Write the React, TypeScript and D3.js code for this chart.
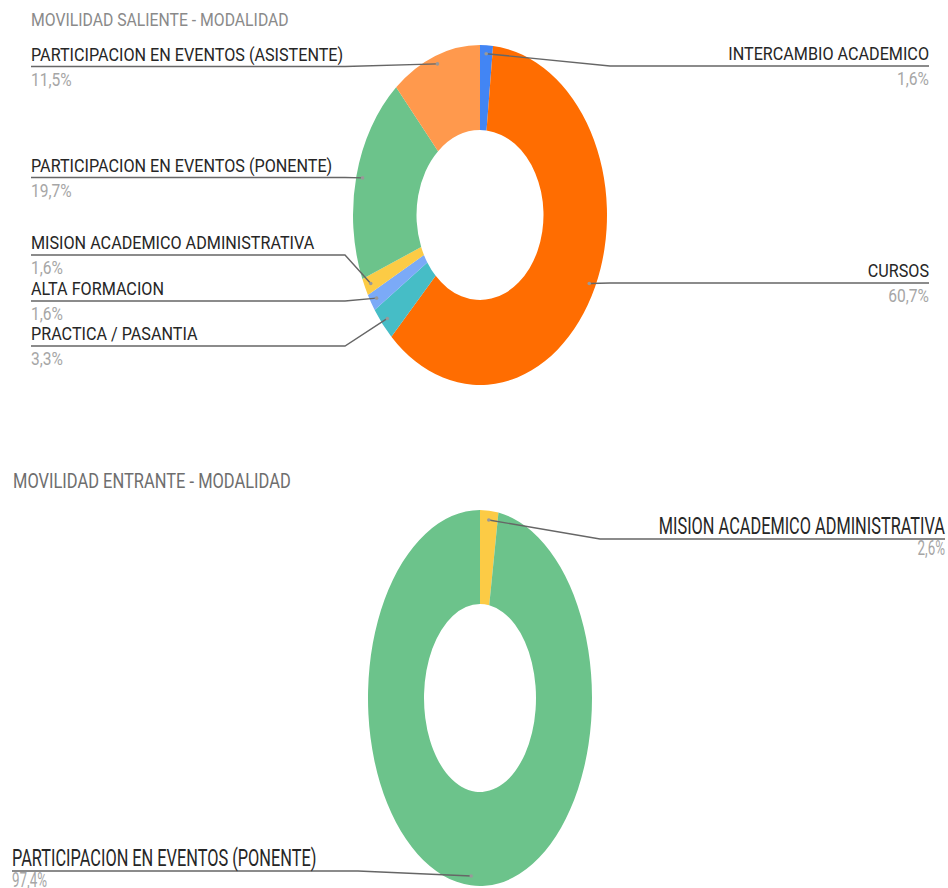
import * as d3 from "d3";

// salida
const salienteLabels = [
  "INTERCAMBIO ACADEMICO",
  "CURSOS",
  "PRACTICA / PASANTIA",
  "ALTA FORMACION",
  "MISION ACADEMICO ADMINISTRATIVA",
  "PARTICIPACION EN EVENTOS (PONENTE)",
  "PARTICIPACION EN EVENTOS (ASISTENTE)",
];
const salienteValues = [1, 37, 2, 1, 1, 12, 7];
const salienteColors = ["#4285f4", "#ff6d01", "#46bdc6", "#7baaf7", "#fccb45", "#6cc38b", "#ff994d"];

// entrada
const entranteLabels = ["MISION ACADEMICO ADMINISTRATIVA", "PARTICIPACION EN EVENTOS (PONENTE)"];
const entranteValues = [1, 37];
const entranteColors = ["#fccb45", "#6cc38b"];

type Layout = {
  title: string;
  titleX: number;
  titleY: number;
  titleSize: number;
  titleSx: number;
  titleColor: string;
  cx: number;
  cy: number;
  rx: number;
  ry: number;
  inner: number;
  fontSize: number;
  sx: number;
  pctSize: number;
  leftX: number;
  rightX: number;
  leftElbow: number;
  rightElbow: number;
  textDy: number;
  pctDy: number;
  rows: number[]; // y de la línea guía por porción
};

const fmtPct = (v: number, total: number) =>
  (Math.round((v / total) * 1000) / 10).toFixed(1).replace(".", ",") + "%";

const Donut = ({
  labels,
  values,
  colors,
  layout,
}: {
  labels: string[];
  values: number[];
  colors: string[];
  layout: Layout;
}) => {
  const R = 100;
  const total = d3.sum(values);
  const pie = d3.pie<number>().sort(null).value((d) => d)(values);
  const arc = d3.arc<d3.PieArcDatum<number>>().innerRadius(R * layout.inner).outerRadius(R);
  const kx = layout.rx / R;
  const ky = layout.ry / R;

  return (
    <g>
      <text
        transform={`translate(${layout.titleX},${layout.titleY}) scale(${layout.titleSx},1)`}
        fontSize={layout.titleSize}
        fill={layout.titleColor}
      >
        {layout.title}
      </text>
      <g transform={`translate(${layout.cx},${layout.cy}) scale(${kx},${ky})`}>
        {pie.map((d, i) => (
          <path key={i} d={arc(d) || ""} fill={colors[i]} />
        ))}
      </g>
      {pie.map((d, i) => {
        const mid = (d.startAngle + d.endAngle) / 2;
        const ax = layout.cx + Math.sin(mid) * 0.95 * layout.rx;
        const ay = layout.cy - Math.cos(mid) * 0.95 * layout.ry;
        const right = mid < Math.PI;
        const ly = layout.rows[i];
        const x0 = right ? layout.rightX : layout.leftX;
        const elbow = right ? layout.rightElbow : layout.leftElbow;
        const anchor = right ? "end" : "start";
        return (
          <g key={"l" + i}>
            <path
              d={`M${x0},${ly}H${elbow}L${ax},${ay}`}
              fill="none"
              stroke="#666"
              strokeWidth={1.4}
            />
            <circle cx={ax} cy={ay} r={1.8} fill="#999" />
            <text
              transform={`translate(${x0},${ly + layout.textDy}) scale(${layout.sx},1)`}
              textAnchor={anchor}
              fontSize={layout.fontSize}
              fill="#262626"
            >
              {labels[i]}
            </text>
            <text
              transform={`translate(${x0},${ly + layout.pctDy}) scale(${layout.sx},1)`}
              textAnchor={anchor}
              fontSize={layout.pctSize}
              fill="#a6a6a6"
            >
              {fmtPct(values[i], total)}
            </text>
          </g>
        );
      })}
    </g>
  );
};

const topLayout: Layout = {
  title: "MOVILIDAD SALIENTE - MODALIDAD",
  titleX: 31,
  titleY: 26,
  titleSize: 17.9,
  titleSx: 0.88,
  titleColor: "#8a8a8a",
  cx: 480,
  cy: 215,
  rx: 127,
  ry: 170,
  inner: 0.5,
  fontSize: 18.7,
  sx: 0.865,
  pctSize: 18,
  leftX: 31,
  rightX: 929,
  leftElbow: 345,
  rightElbow: 610,
  textDy: -6,
  pctDy: 19,
  rows: [66, 283, 346, 301, 255, 177.5, 66.5],
};

const bottomLayout: Layout = {
  title: "MOVILIDAD ENTRANTE - MODALIDAD",
  titleX: 13,
  titleY: 488,
  titleSize: 21,
  titleSx: 0.785,
  titleColor: "#6e6e6e",
  cx: 480,
  cy: 698,
  rx: 112,
  ry: 188,
  inner: 0.5,
  fontSize: 24.4,
  sx: 0.67,
  pctSize: 20,
  leftX: 12,
  rightX: 945,
  leftElbow: 358,
  rightElbow: 600,
  textDy: -5,
  pctDy: 16,
  rows: [539, 871],
};

export default function App() {
  return (
    <svg
      width={948}
      height={888}
      style={{ position: "absolute", left: 0, top: 0, display: "block", background: "#fff" }}
      fontFamily="Roboto, 'Liberation Sans', sans-serif"
    >
      <Donut labels={salienteLabels} values={salienteValues} colors={salienteColors} layout={topLayout} />
      <Donut labels={entranteLabels} values={entranteValues} colors={entranteColors} layout={bottomLayout} />
    </svg>
  );
}
